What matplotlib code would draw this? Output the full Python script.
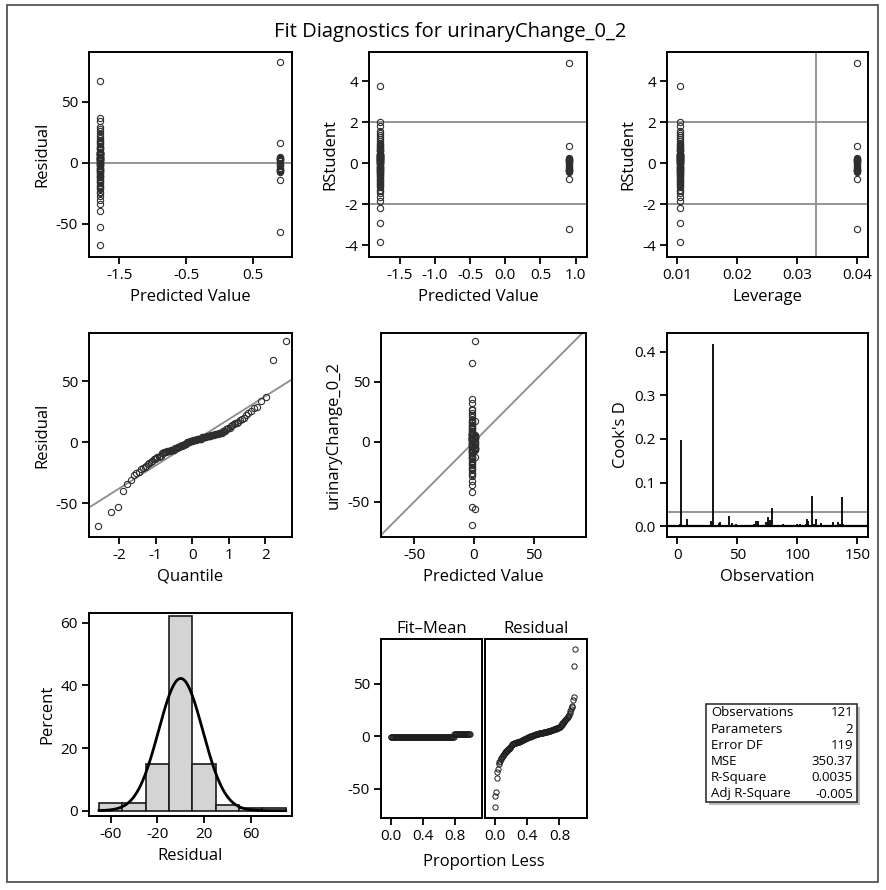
import numpy as np
import matplotlib
matplotlib.use("Agg")
import matplotlib.pyplot as plt
from matplotlib.patches import Rectangle
from matplotlib.ticker import FormatStrFormatter
from statistics import NormalDist

plt.rcParams['font.family'] = ['Open Sans', 'DejaVu Sans']
plt.rcParams['axes.unicode_minus'] = False

W, H = 886, 890

# fitted values for the two levels of the regressor
fit_low = -1.78
fit_high = 0.90

# observation numbers and residuals, low group
obs_low = [1, 4, 6, 7, 9, 10, 12, 13, 15, 16, 18, 19, 20, 22, 24, 25, 26, 28, 29, 31,
           32, 34, 35, 36, 37, 39, 40, 42, 43, 44, 45, 46, 48, 49, 50, 51, 53, 54, 57, 59,
           61, 63, 64, 65, 66, 68, 69, 71, 72, 73, 74, 75, 76, 77, 79, 80, 81, 82, 85, 86,
           88, 89, 91, 93, 94, 95, 96, 97, 98, 100, 101, 102, 103, 105, 106, 107, 108, 109, 111, 112,
           113, 114, 116, 117, 119, 120, 123, 124, 126, 129, 130, 132, 134, 136, 137, 138]
res_low = [3, -5, 7, -2, 11, -6, 4, -12, 1, 8, -9, 5, -11, 0, -3, 6, -13, 28, 2, -7,
           9, -1, -22, 26, 4, -8, 12, 5, -40, -4, 7, 22, -6, 18, 3, -14, 8, -2, 6, -9,
           13, 1, -17, 19, 29, -5, 9, -12, 0, 5, -24, 8, 37, -31, -53, 2, -8, 14, -1, 6,
           -18, 3, 7, -3, 11, -7, 15, 4, -4, -16, 9, 17, -15, 1, 8, -19, 34, -27, 2, -68,
           6, -20, -34, 5, 12, -21, 3, 7, -11, 4, -25, 0, 24, 20, 67, 16]

# observation numbers and residuals, high group
obs_high = [2, 3, 8, 14, 21, 27, 30, 33, 41, 47, 55, 62, 67, 70, 78, 83, 92, 99, 104, 110,
            115, 121, 128, 131, 135]
res_high = [-8, -57, 16, 3, -2, 5, 83, -6, 1, -7, 4, -3, -14, 0, -6, 2, -5, 3, -1, -7,
            3, -4, 4, -6, 2]

n_params = 2
stat_names = ["Observations", "Parameters", "Error DF", "MSE", "R-Square", "Adj R-Square"]
stat_values = ["121", "2", "119", "350.37", "0.0035", "-0.005"]

obs = np.array(obs_low + obs_high)
resid = np.array(res_low + res_high, dtype=float)
fitted = np.array([fit_low] * len(res_low) + [fit_high] * len(res_high))
lev = np.array([1 / len(res_low)] * len(res_low) + [1 / len(res_high)] * len(res_high))
y = fitted + resid
n = len(resid)
dfe = n - n_params
mse = np.sum(resid ** 2) / dfe

s2_i = (dfe * mse - resid ** 2 / (1 - lev)) / (dfe - 1)
rstudent = resid / np.sqrt(s2_i * (1 - lev))
cooks = resid ** 2 / (n_params * mse) * lev / (1 - lev) ** 2
sigma = np.sqrt(mse)

GREY = '#8c8c8c'
PT = dict(ls='none', marker='o', mfc='none', mec='#2e2e2e', ms=4.5, mew=0.8)
LBL = 12

fig = plt.figure(figsize=(W / 100, H / 100), dpi=100)
fig.patches.append(Rectangle((7 / W, 1 - 882 / H), 871 / W, 877 / H, transform=fig.transFigure,
                             fill=False, ec='#555555', lw=1.3))
fig.text(450 / W, 1 - 32 / H, "Fit Diagnostics for urinaryChange_0_2", ha='center', va='center',
         fontsize=14.5)


def px_axes(x0, y0, x1, y1):
    ax = fig.add_axes([x0 / W, 1 - y1 / H, (x1 - x0) / W, (y1 - y0) / H])
    for s in ax.spines.values():
        s.set_linewidth(1.4)
    ax.tick_params(direction='out', length=5, width=1.3, labelsize=11, pad=3)
    return ax


# residual by predicted value
ax = px_axes(89, 52, 292, 257)
ax.axhline(0, color=GREY, lw=1.3)
ax.plot(fitted, resid, **PT)
ax.set_xlim(-1.95, 1.08)
ax.set_ylim(-77.5, 91)
ax.set_xticks([-1.5, -0.5, 0.5])
ax.set_yticks([-50, 0, 50])
ax.set_xlabel("Predicted Value", fontsize=LBL)
ax.set_ylabel("Residual", fontsize=LBL)

# rstudent by predicted value
ax = px_axes(369, 52, 587, 257)
for v in (-2, 2):
    ax.axhline(v, color=GREY, lw=1.3)
ax.plot(fitted, rstudent, **PT)
ax.set_xlim(-1.933, 1.16)
ax.set_ylim(-4.56, 5.42)
ax.set_xticks([-1.5, -1.0, -0.5, 0.0, 0.5, 1.0])
ax.xaxis.set_major_formatter(FormatStrFormatter('%.1f'))
ax.set_yticks([-4, -2, 0, 2, 4])
ax.set_xlabel("Predicted Value", fontsize=LBL)
ax.set_ylabel("RStudent", fontsize=LBL)

# rstudent by leverage
ax = px_axes(667, 52, 868, 257)
for v in (-2, 2):
    ax.axhline(v, color=GREY, lw=1.3)
ax.axvline(4 / n, color=GREY, lw=1.3)
ax.plot(lev, rstudent, **PT)
ax.set_xlim(0.00828, 0.04178)
ax.set_ylim(-4.56, 5.42)
ax.set_xticks([0.01, 0.02, 0.03, 0.04])
ax.xaxis.set_major_formatter(FormatStrFormatter('%.2f'))
ax.set_yticks([-4, -2, 0, 2, 4])
ax.set_xlabel("Leverage", fontsize=LBL)
ax.set_ylabel("RStudent", fontsize=LBL)

# normal quantile plot of residuals
ax = px_axes(89, 333, 292, 537)
order = np.sort(resid)
nd = NormalDist()
q = np.array([nd.inv_cdf((i + 1 - 0.375) / (n + 0.25)) for i in range(n)])
ax.set_xlim(-2.822, 2.724)
ax.set_ylim(-77.4, 89.4)
xl = np.array(ax.get_xlim())
ax.plot(xl, sigma * xl, color=GREY, lw=1.3)
ax.plot(q, order, **PT)
ax.set_xticks([-2, -1, 0, 1, 2])
ax.set_yticks([-50, 0, 50])
ax.set_xlabel("Quantile", fontsize=LBL)
ax.set_ylabel("Residual", fontsize=LBL)

# observed by predicted
ax = px_axes(381, 333, 586, 537)
ax.set_xlim(-77.8, 93.6)
ax.set_ylim(-79.4, 90.6)
ax.plot([-80, 95], [-80, 95], color=GREY, lw=1.3)
ax.plot(fitted, y, **PT)
ax.set_xticks([-50, 0, 50])
ax.set_yticks([-50, 0, 50])
ax.set_xlabel("Predicted Value", fontsize=LBL)
ax.set_ylabel("urinaryChange_0_2", fontsize=LBL)

# cook's d by observation
ax = px_axes(667, 333, 868, 537)
ax.axhline(4 / n, color=GREY, lw=1.3)
ax.vlines(obs, 0, cooks, color='black', lw=1.3)
ax.axhline(0, color='black', lw=1.6)
ax.set_xlim(-8.6, 159)
ax.set_ylim(-0.025, 0.443)
ax.set_xticks([0, 50, 100, 150])
ax.set_yticks([0.0, 0.1, 0.2, 0.3, 0.4])
ax.yaxis.set_major_formatter(FormatStrFormatter('%.1f'))
ax.set_xlabel("Observation", fontsize=LBL)
ax.set_ylabel("Cook's D", fontsize=LBL)

# residual histogram with normal density
ax = px_axes(89, 613, 292, 816)
edges = np.arange(-70, 91, 20)
ax.hist(resid, bins=edges, weights=np.full(n, 100 / n), color='#d4d4d4', ec='#1a1a1a', lw=1.2)
xs = np.linspace(-70, 90, 300)
dens = 100 * 20 * np.exp(-0.5 * (xs / sigma) ** 2) / (sigma * np.sqrt(2 * np.pi))
ax.plot(xs, dens, color='black', lw=2)
ax.set_xlim(-78.6, 95.4)
ax.set_ylim(-1.7, 63.1)
ax.set_xticks([-60, -20, 20, 60])
ax.set_yticks([0, 20, 40, 60])
ax.set_xlabel("Residual", fontsize=LBL)
ax.set_ylabel("Percent", fontsize=LBL)

# residual-fit spread
prop = np.arange(n) / n
fit_mean = np.sort(fitted - y.mean())
ax1 = px_axes(381, 639, 482, 818)
ax2 = px_axes(485, 639, 587, 818)
spread_pt = dict(PT, ms=3.8, mew=0.7, mec='#1e1e1e')
ax1.plot(prop, fit_mean, **spread_pt)
ax2.plot(prop, order, **spread_pt)
for a, ttl in ((ax1, "Fit\u2013Mean"), (ax2, "Residual")):
    a.set_xlim(-0.12, 1.14)
    a.set_ylim(-78, 92.4)
    a.set_xticks([0.0, 0.4, 0.8])
    a.xaxis.set_major_formatter(FormatStrFormatter('%.1f'))
    a.set_title(ttl, fontsize=LBL, pad=4)
ax1.set_yticks([-50, 0, 50])
ax2.set_yticks([])
fig.text(484 / W, 1 - 862 / H, "Proportion Less", ha='center', va='center', fontsize=LBL)

# fit statistics box
fig.patches.append(Rectangle((709 / W, 1 - 805 / H), 151 / W, 98 / H, transform=fig.transFigure,
                             fc='#bbbbbb', ec='none'))
fig.patches.append(Rectangle((706 / W, 1 - 802 / H), 151 / W, 98 / H, transform=fig.transFigure,
                             fc='white', ec='#222222', lw=1.1))
for i, (name, val) in enumerate(zip(stat_names, stat_values)):
    yy = 1 - (713 + i * 16.2) / H
    fig.text(711 / W, yy, name, ha='left', va='center', fontsize=9.5)
    fig.text(853 / W, yy, val, ha='right', va='center', fontsize=9.5)

fig.savefig("out.png", dpi=100)
